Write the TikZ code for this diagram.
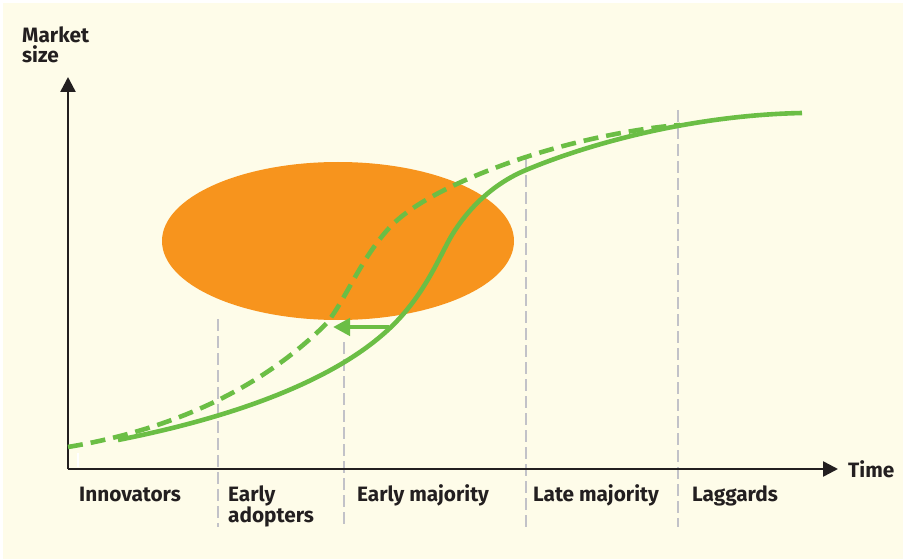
\documentclass[tikz,border=0pt]{standalone}
\usepackage{fontspec}
\setmainfont{Fira Sans}
\usetikzlibrary{arrows.meta}
\definecolor{cream}{HTML}{FEFCE9}
\definecolor{ink}{HTML}{231F20}
\definecolor{leaf}{HTML}{6BBE45}
\definecolor{amber}{HTML}{F7941D}
\definecolor{divider}{HTML}{C2C2C8}
\tikzset{
  lbl/.style={font=\fontsize{20.8}{20.8}\selectfont\bfseries, text=ink, inner sep=0pt, align=left},
  axisline/.style={line width=2.5pt, draw=ink, -{Triangle[length=15pt,width=15pt]}},
  divline/.style={line width=2pt, draw=divider, dash pattern=on 12pt off 5pt},
  curve/.style={line width=4.6pt, draw=leaf},
  dcurve/.style={line width=4.6pt, draw=leaf, dash pattern=on 15pt off 8pt},
}
\begin{document}
\begin{tikzpicture}[x=1pt,y=-1pt]
\useasboundingbox (0,0) rectangle (903,559);
\fill[white] (0,0) rectangle (903,559);
\fill[cream] (3,3) rectangle (903,559);
% ellipse
\fill[amber] (338,241) ellipse [x radius=176, y radius=79];
% dividers
\coordinate (d1t) at (218,319); \coordinate (d1b) at (218,527);
\coordinate (d2t) at (344,342); \coordinate (d2b) at (344,527);
\coordinate (d3t) at (526,158); \coordinate (d3b) at (526,527);
\coordinate (d4t) at (678,110); \coordinate (d4b) at (678,527);
\draw[divline] (d1t) -- (d1b);
\draw[divline] (d2t) -- (d2b);
\draw[divline] (d3t) -- (d3b);
\draw[divline] (d4t) -- (d4b);
% axes
\coordinate (o) at (68,469);
\coordinate (ytop) at (68,77);
\coordinate (xend) at (838,469);
\draw[axisline] (o) -- (ytop);
\draw[axisline] (o) -- (xend);
\coordinate (wt1) at (78,453); \coordinate (wt2) at (78,467);
\draw[white, line width=1.5pt] (wt1) -- (wt2);
% dashed curve (shifted adoption)
\coordinate (ds) at (68,447);
\coordinate (de) at (680,125);
\draw[dcurve] (ds) .. controls (170,430) and (260,390) .. (327,323)
  .. controls (347,297) and (362,256) .. (392,225)
  .. controls (420,197) and (480,172) .. (526,157)
  .. controls (581,139) and (640,128) .. (de);
% solid curve
\coordinate (ss) at (118,440);
\coordinate (se) at (802,113);
\draw[curve] (ss) .. controls (220,420) and (330,385) .. (390,328)
  .. controls (425,295) and (440,255) .. (452,235)
  .. controls (466,212) and (490,185) .. (526,170)
  .. controls (598,140) and (700,115) .. (se);
% arrow
\coordinate (as) at (389,327);
\coordinate (ae) at (333,327);
\draw[leaf, line width=4.6pt, -{Triangle[length=17pt,width=17pt]}] (as) -- (ae);
% labels
\node[lbl, anchor=base west] (ms) at (22,63) {Market\\size};
\node[lbl, anchor=base west] (tm) at (848,477) {Time};
\node[lbl, anchor=base west] (inn) at (79,501) {Innovators};
\node[lbl, anchor=base west] (ea) at (228,522) {Early\\adopters};
\node[lbl, anchor=base west] (em) at (357,501) {Early majority};
\node[lbl, anchor=base west] (lm) at (533,501) {Late majority};
\node[lbl, anchor=base west] (lg) at (692,501) {Laggards};
\end{tikzpicture}
\end{document}
